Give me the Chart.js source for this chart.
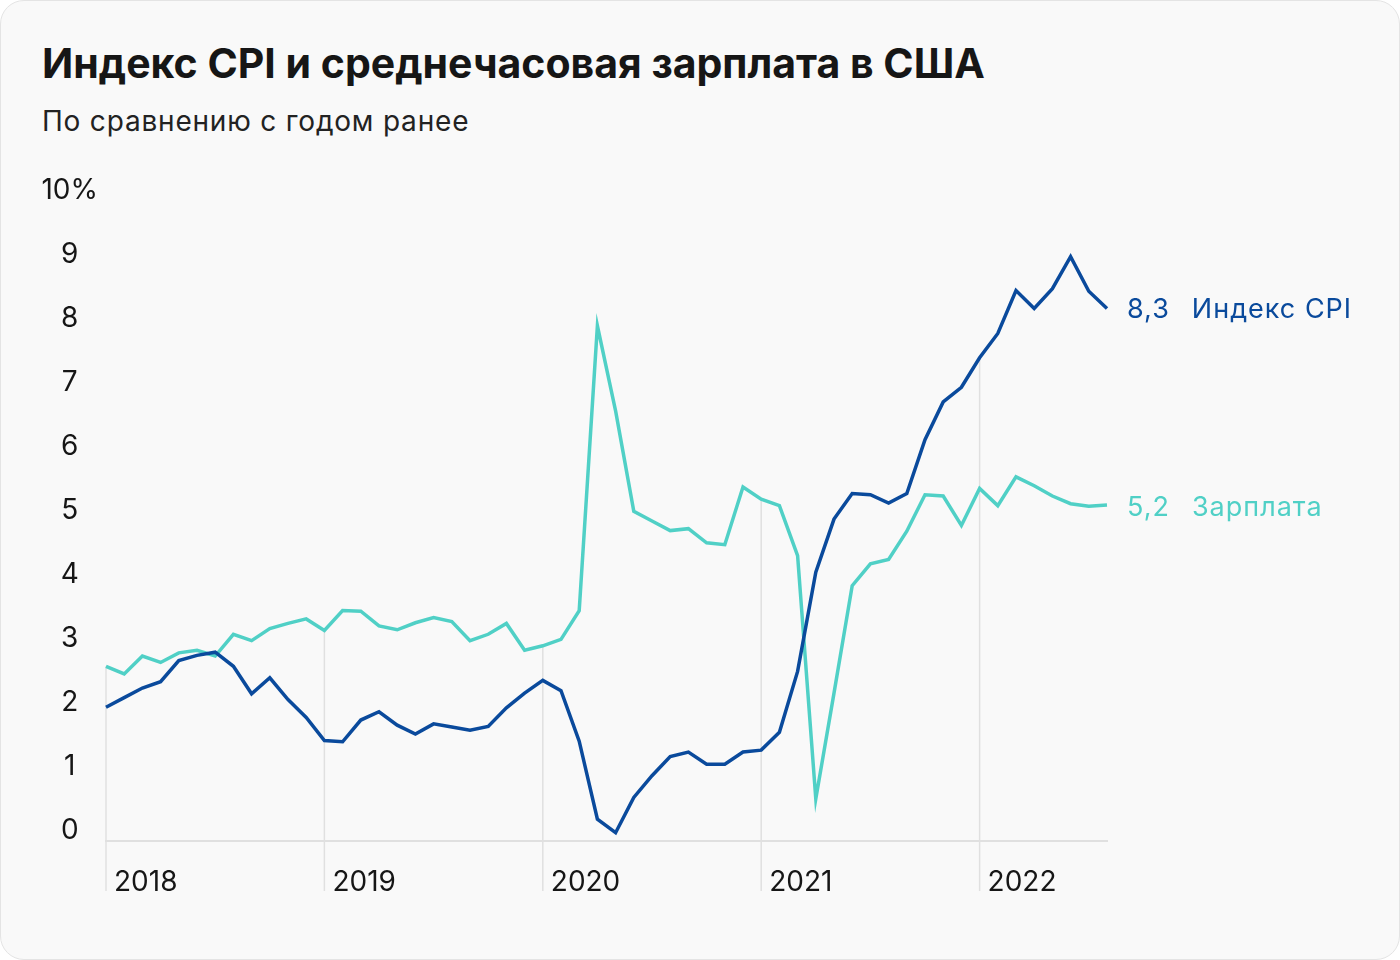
<!DOCTYPE html>
<html>
<head>
<meta charset="utf-8">
<script src="https://cdn.jsdelivr.net/npm/chart.js@4.4.1/dist/chart.umd.min.js"></script>
<style>
  html, body { margin: 0; padding: 0; background: #ffffff; }
  .card {
    position: absolute; left: 0; top: 0; width: 1398px; height: 958px;
    border: 1px solid #e4e4e4; border-radius: 24px; background: #f9f9f9;
    overflow: hidden; font-family: Inter, "Noto Sans", sans-serif; color: #161616;
  }
  .title { position: absolute; left: 41px; top: 42px; margin: 0; font-size: 41px; line-height: 41px; font-weight: 700; }
  .subtitle { position: absolute; left: 41px; top: 106px; font-size: 28px; line-height: 28px; font-weight: 400; letter-spacing: 0.8px; color: #222; }
  canvas { position: absolute; left: 0; top: 0; }
</style>
</head>
<body>
<div class="card">
  <h1 class="title">Индекс CPI и среднечасовая зарплата в США</h1>
  <div class="subtitle">По сравнению с годом ранее</div>
  <canvas id="chart" width="1400" height="960"></canvas>
</div>
<script>
// year ticks, one per January
const years = ['2018', '2019', '2020', '2021', '2022'];

// monthly values, Jan 2018 .. Aug 2022, % year on year
const cpi = [
  2.09, 2.24, 2.39, 2.49, 2.82, 2.90, 2.95, 2.73, 2.30, 2.55, 2.21, 1.93,
  1.57, 1.55, 1.89, 2.02, 1.81, 1.67, 1.83, 1.78, 1.73, 1.79, 2.08, 2.31,
  2.51, 2.35, 1.56, 0.34, 0.13, 0.68, 1.02, 1.32, 1.39, 1.20, 1.20, 1.39,
  1.42, 1.70, 2.65, 4.20, 5.03, 5.43, 5.41, 5.28, 5.43, 6.27, 6.86, 7.09,
  7.55, 7.93, 8.60, 8.32, 8.63, 9.13, 8.59, 8.32
];
const wages = [
  2.73, 2.61, 2.89, 2.79, 2.94, 2.98, 2.89, 3.23, 3.13, 3.32, 3.40, 3.47,
  3.29, 3.60, 3.59, 3.36, 3.30, 3.41, 3.49, 3.43, 3.13, 3.23, 3.40, 2.98,
  3.05, 3.15, 3.60, 8.05, 6.72, 5.15, 5.00, 4.85, 4.88, 4.66, 4.63, 5.53,
  5.34, 5.24, 4.46, 0.66, 2.31, 3.99, 4.33, 4.40, 4.84, 5.41, 5.39, 4.93,
  5.51, 5.24, 5.69, 5.55, 5.39, 5.27, 5.23, 5.25
];

const seriesNames = ['Индекс CPI', 'Зарплата'];
const lastLabels = ['8,3', '5,2'];

const CPI_COLOR = '#0a4a9c';
const WAGE_COLOR = '#50d0c6';
const GRID_COLOR = '#e0e0e0';

const toPoints = arr => arr.map((v, i) => ({ x: i, y: v }));

// vertical year lines, from the upper line down past the axis
const yearLines = {
  id: 'yearLines',
  beforeDatasetsDraw(chart) {
    const { ctx, scales: { x, y }, chartArea } = chart;
    ctx.save();
    ctx.strokeStyle = GRID_COLOR;
    ctx.lineWidth = 1.5;
    years.forEach((yr, i) => {
      const idx = i * 12;
      const top = Math.min(y.getPixelForValue(cpi[idx]), y.getPixelForValue(wages[idx]));
      const px = x.getPixelForValue(idx);
      ctx.beginPath();
      ctx.moveTo(px, top);
      ctx.lineTo(px, chartArea.bottom + 50);
      ctx.stroke();
    });
    ctx.restore();
  }
};

// value + name at the end of each line, placed at the rounded value
const endLabels = {
  id: 'endLabels',
  afterDatasetsDraw(chart) {
    const { ctx, scales: { y } } = chart;
    ctx.save();
    ctx.font = '400 27px Inter';
    ctx.letterSpacing = '1px';
    ctx.textBaseline = 'middle';
    chart.data.datasets.forEach((ds, i) => {
      const pts = chart.getDatasetMeta(i).data;
      const last = pts[pts.length - 1];
      const lx = last.x + 20;
      const ly = y.getPixelForValue(parseFloat(lastLabels[i].replace(',', '.')));
      ctx.fillStyle = ds.borderColor;
      ctx.fillText(lastLabels[i], lx, ly);
      const w = ctx.measureText(lastLabels[i]).width;
      ctx.fillText(seriesNames[i], lx + w + 22, ly);
    });
    ctx.restore();
  }
};

Chart.defaults.font.family = 'Inter';

new Chart(document.getElementById('chart'), {
  type: 'line',
  data: {
    datasets: [
      { label: seriesNames[0], data: toPoints(cpi), borderColor: CPI_COLOR, borderWidth: 3.5, pointRadius: 0, tension: 0, clip: false },
      { label: seriesNames[1], data: toPoints(wages), borderColor: WAGE_COLOR, borderWidth: 3.5, pointRadius: 0, tension: 0, clip: false }
    ]
  },
  options: {
    responsive: false,
    devicePixelRatio: 1,
    animation: false,
    layout: { padding: { left: 30, right: 294, top: 200, bottom: 40 } },
    plugins: { legend: { display: false }, tooltip: { enabled: false } },
    scales: {
      x: {
        type: 'linear', min: 0, max: cpi.length - 1,
        grid: { display: false },
        border: { display: true, color: GRID_COLOR, width: 2 },
        afterBuildTicks: s => { s.ticks = years.map((yr, i) => ({ value: i * 12 })); },
        afterFit: s => { s.height = 80; },
        ticks: {
          align: 'start', labelOffset: 8, padding: 17, maxRotation: 0, autoSkip: false,
          color: '#161616', font: { size: 28 },
          callback: v => years[v / 12]
        }
      },
      y: {
        min: 0, max: 10,
        grid: { display: false },
        border: { display: false },
        afterFit: s => { s.width = 75; },
        ticks: {
          stepSize: 1, crossAlign: 'center', labelOffset: -10, padding: 0,
          color: '#161616', font: { size: 28 },
          callback: v => v === 10 ? '10%' : v
        }
      }
    }
  },
  plugins: [yearLines, endLabels]
});
</script>
</body>
</html>
